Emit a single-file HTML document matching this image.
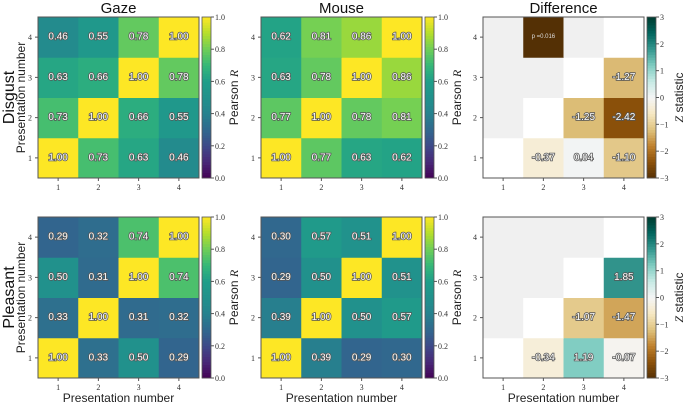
<!DOCTYPE html>
<html><head><meta charset="utf-8"><style>
html,body{margin:0;padding:0;background:#fff}
svg{display:block}
text{font-family:"Liberation Sans",sans-serif}
.tk{font-family:"Liberation Serif",serif;font-size:8px;fill:#333}
.val{font-size:10px;fill:#fff;stroke:#555;stroke-width:1.6px;paint-order:stroke;text-anchor:middle;dominant-baseline:central}
</style></head><body>
<svg id="chart" width="684" height="404" viewBox="0 0 684 404" xmlns="http://www.w3.org/2000/svg"></svg>
<script>
const categories = [1, 2, 3, 4];
const gazeDisgust = [[1.00,0.73,0.63,0.46],[0.73,1.00,0.66,0.55],[0.63,0.66,1.00,0.78],[0.46,0.55,0.78,1.00]];
const mouseDisgust = [[1.00,0.77,0.63,0.62],[0.77,1.00,0.78,0.81],[0.63,0.78,1.00,0.86],[0.62,0.81,0.86,1.00]];
const gazePleasant = [[1.00,0.33,0.50,0.29],[0.33,1.00,0.31,0.32],[0.50,0.31,1.00,0.74],[0.29,0.32,0.74,1.00]];
const mousePleasant = [[1.00,0.39,0.29,0.30],[0.39,1.00,0.50,0.57],[0.29,0.50,1.00,0.51],[0.30,0.57,0.51,1.00]];
const diffDisgust = [[null,-0.37,0.04,-1.10],[null,null,-1.25,-2.42],[null,null,null,-1.27],[null,-3.0,null,null]];
const diffPleasant = [[null,-0.34,1.19,-0.07],[null,null,-1.07,-1.47],[null,null,null,1.85],[null,null,null,null]];
const diffNotes = {"3,1":"p =0.016"};
const rTicks = ["0.0","0.2","0.4","0.6","0.8","1.0"];
const zTicks = ["-3","-2","-1","0","1","2","3"];

const NS="http://www.w3.org/2000/svg";
const svg=document.getElementById('chart');
function el(tag,attrs,parent,txt){const e=document.createElementNS(NS,tag);for(const k in attrs)e.setAttribute(k,attrs[k]);if(txt!==undefined)e.textContent=txt;(parent||svg).appendChild(e);return e;}
function hex(c){return [parseInt(c.slice(1,3),16),parseInt(c.slice(3,5),16),parseInt(c.slice(5,7),16)];}
function interp(stops,t){t=Math.max(0,Math.min(1,t));const n=stops.length-1;const i=Math.min(n-1,Math.floor(t*n));const f=t*n-i;const a=hex(stops[i]),b=hex(stops[i+1]);return 'rgb('+a.map((v,k)=>Math.round(v+(b[k]-v)*f)).join(',')+')';}
const viridis=['#440154','#482878','#3e4989','#31688e','#26828e','#21918c','#1f9e89','#35b779','#6ece58','#b5de2b','#fde725'];
const brbg=['#543005','#8c510a','#bf812d','#dfc27d','#f6e8c3','#f5f5f5','#c7eae5','#80cdc1','#35978f','#01665e','#003c30'];

const W=161,H=161,cw=W/4;
function xs(j,x0){return x0+j*cw;}
function ys(i,y0){return y0+(3-i)*cw;}

function axesFrame(x0,y0,name,showXLabel){
  el('rect',{x:x0,y:y0,width:W,height:H,fill:'none',stroke:'#555','stroke-width':1,},svg);
  categories.forEach((c,k)=>{
    const cx=xs(k,x0)+cw/2, cy=ys(k,y0)+cw/2;
    el('line',{x1:cx,x2:cx,y1:y0+H,y2:y0+H+3,stroke:'#555'},svg);
    el('text',{x:cx,y:y0+H+12,'text-anchor':'middle',class:'tk',},svg,String(c));
    el('line',{x1:x0-3,x2:x0,y1:cy,y2:cy,stroke:'#555'},svg);
    el('text',{x:x0-6,y:cy+3,'text-anchor':'end',class:'tk',},svg,String(c));
  });
  if(showXLabel) el('text',{x:x0+W/2,y:y0+H+24,'text-anchor':'middle','font-size':'12px',fill:'#222',},svg,'Presentation number');
}

function corrPanel(M,x0,y0,name,showXLabel){
  const g=el('g',{},svg);
  M.forEach((row,i)=>row.forEach((v,j)=>{
    const r=el('rect',{x:xs(j,x0),y:ys(i,y0),width:cw+0.5,height:cw+0.5,fill:interp(viridis,v)},g);
    
    
    const t=el('text',{x:xs(j,x0)+cw/2,y:ys(i,y0)+cw/2,class:'val'},g,v.toFixed(2));
    
    
  }));
  axesFrame(x0,y0,name,showXLabel);
  colorbar(x0+W+3,y0,viridis,rTicks,0,1,'Pearson ',name);
}

function diffPanel(D,x0,y0,name,showXLabel){
  const g=el('g',{},svg);
  D.forEach((row,i)=>row.forEach((v,j)=>{
    let fill;
    if(v!==null) fill=interp(brbg,(v+3)/6);
    else if(i===j) fill='#ffffff';
    else if(j<i) fill='#f0f0f0';
    else fill='#ffffff';
    const r=el('rect',{x:xs(j,x0),y:ys(i,y0),width:cw+0.5,height:cw+0.5,fill:fill},g);
    
    
    if(v!==null){
      const note=diffNotes[i+','+j];
      if(note && name==='disgust-difference'){
        const t=el('text',{x:xs(j,x0)+cw/2,y:ys(i,y0)+cw/2,'font-size':'6px',fill:'#ddd','text-anchor':'middle','dominant-baseline':'central','font-family':'Liberation Serif'},g,note);
        
        
      } else {
        const t=el('text',{x:xs(j,x0)+cw/2,y:ys(i,y0)+cw/2,class:'val'},g,v.toFixed(2));
        
        
      }
    }
  }));
  axesFrame(x0,y0,name,showXLabel);
  colorbar(x0+W+3,y0,brbg,zTicks,-3,3,'Z statistic',name);
}

function colorbar(x,y,stops,ticks,lo,hi,label,name){
  const g=el('g',{},svg);
  const N=60;
  for(let k=0;k<N;k++){
    el('rect',{x:x,y:y+H-(k+1)*H/N,width:9,height:H/N+0.4,fill:interp(stops,(k+0.5)/N)},g);
  }
  el('rect',{x:x,y:y,width:9,height:H,fill:'none',stroke:'#555','stroke-width':0.8},g);
  ticks.forEach(tl=>{
    const v=parseFloat(tl);const ty=y+H-(v-lo)/(hi-lo)*H;
    el('line',{x1:x+9,x2:x+12,y1:ty,y2:ty,stroke:'#555'},g);
    el('text',{x:x+13,y:ty+3,class:'tk'},g,tl.replace('-','−'));
  });
  const lx=x+36, ly=y+H/2;
  const t=el('text',{x:lx,y:ly,transform:'rotate(-90 '+lx+' '+ly+')','text-anchor':'middle','font-size':'12px',fill:'#222',},g);
  if(label==='Pearson '){el('tspan',{},t,'Pearson ');el('tspan',{'font-style':'italic','font-family':'Liberation Serif'},t,'R');}
  else {el('tspan',{'font-style':'italic','font-family':'Liberation Serif'},t,'Z');el('tspan',{},t,' statistic');}
}

const X=[38,261,483], Y=[17,217];
corrPanel(gazeDisgust,X[0],Y[0],'disgust-gaze',false);
corrPanel(mouseDisgust,X[1],Y[0],'disgust-mouse',false);
diffPanel(diffDisgust,X[2],Y[0],'disgust-difference',false);
corrPanel(gazePleasant,X[0],Y[1],'pleasant-gaze',true);
corrPanel(mousePleasant,X[1],Y[1],'pleasant-mouse',true);
diffPanel(diffPleasant,X[2],Y[1],'pleasant-difference',true);

[['Gaze',X[0]],['Mouse',X[1]],['Difference',X[2]]].forEach(([t,x])=>{
  el('text',{x:x+W/2,y:13,'text-anchor':'middle','font-size':'15px',fill:'#111',},svg,t);
});
[['Disgust',Y[0]],['Pleasant',Y[1]]].forEach(([t,y])=>{
  const cy=y+H/2;
  el('text',{x:14,y:cy,transform:'rotate(-90 14 '+cy+')','text-anchor':'middle','font-size':'16px',fill:'#111',},svg,t);
  el('text',{x:25,y:cy,transform:'rotate(-90 25 '+cy+')','text-anchor':'middle','font-size':'12px',fill:'#222',},svg,'Presentation number');
});
</script>
</body></html>
